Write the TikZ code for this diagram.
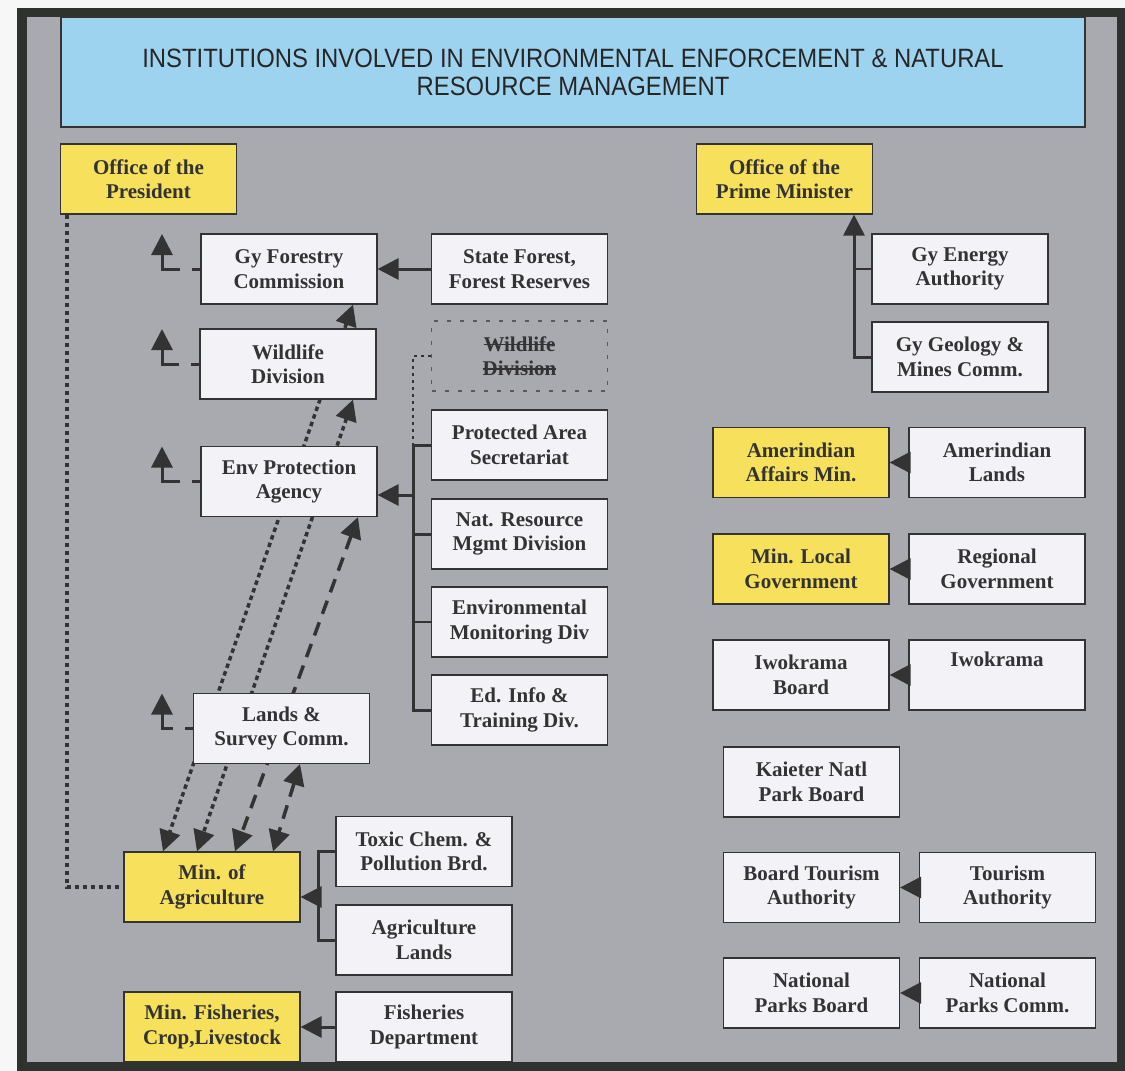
\documentclass[tikz,border=0pt]{standalone}
\usepackage{fontspec}
\setmainfont{Liberation Serif}
\newfontfamily\titlefont[FakeStretch=0.9]{Liberation Sans}
\usetikzlibrary{arrows.meta,backgrounds,calc}

\definecolor{framegray}{HTML}{2F322F}
\definecolor{panelgray}{HTML}{A9AAB0}
\definecolor{titleblue}{HTML}{9ED3F0}
\definecolor{boxwhite}{HTML}{F3F3F7}
\definecolor{minyellow}{HTML}{F6E05C}
\definecolor{inkgray}{HTML}{333333}
\newcommand\strikeout[1]{\setbox0\hbox{#1}\rlap{\rule[0.28em]{\wd0}{1.2pt}}\box0}

\begin{document}
\begin{tikzpicture}[x=1pt,y=-1pt,>={Triangle[length=21pt,width=21pt]},node distance=196pt,
      inst/.style={rectangle,draw=inkgray,line width=1.2pt,fill=boxwhite,text=inkgray,
        minimum width=176pt,minimum height=70pt,inner sep=2pt,align=center,
        font=\fontsize{21}{24.5}\selectfont\bfseries},
      mins/.style={inst,fill=minyellow},
      gone/.style={inst,fill=none,draw=black!65,dash pattern=on 4pt off 9pt},
      link/.style={draw=inkgray,line width=3pt},
      thinlink/.style={draw=inkgray,line width=1.5pt},
      uplink/.style={link,->,dash pattern=on 8pt off 12pt on 300pt},
      dotlink/.style={draw=inkgray,line width=3.5pt,dash pattern=on 4.5pt off 3.5pt},
      dashlink/.style={draw=inkgray,line width=3.5pt,dash pattern=on 14pt off 9pt}]
  \useasboundingbox (0,0) rectangle (1125,1071);
  \begin{scope}[on background layer]
    \fill[white!97!black] (0,0) rectangle (1125,1071);
    \fill[framegray] (17,8) rectangle (1125,1071);
    \fill[panelgray] (27,17) rectangle (1117,1062);
  \end{scope}

  \node[draw=inkgray,line width=1.2pt,fill=titleblue,minimum width=1024pt,minimum height=110pt,
    align=center,text=black!85,font=\titlefont\fontsize{26.5}{28}\selectfont] (title) at (573,72)
    {INSTITUTIONS INVOLVED IN ENVIRONMENTAL ENFORCEMENT \& NATURAL\\RESOURCE MANAGEMENT};

  \node[mins] (pres) at (148.5,179) {Office of the\\President};
  \node[mins] (pm) at (784.5,179) {Office of the\\Prime Minister};
  \node[inst] (forest) at (289,269) {Gy Forestry\\Commission};
  \node[inst] (stateforest) at (519.5,269) {State Forest,\\Forest Reserves};
  \node[inst] (wild) at (288,364) {Wildlife\\Division};
  \node[gone] (wildold) at (519.5,356) {\strikeout{Wildlife}\\\strikeout{Division}};
  \node[inst] (pas) at (519.5,445) {Protected Area\\Secretariat};
  \node[inst] (epa) at (289,481.5) {Env Protection\\Agency};
  \node[inst] (nrm) at (519.5,534) {Nat. Resource\\Mgmt Division};
  \node[inst] (emd) at (519.5,622) {Environmental\\Monitoring Div};
  \node[inst] (edu) at (519.5,710) {Ed. Info \&\\Training Div.};
  \node[inst] (lands) at (281.5,728.5) {Lands \&\\Survey Comm.};
  \node[mins] (agri) at (212,887) {Min. of\\Agriculture};
  \node[inst] (toxic) at (424,851.5) {Toxic Chem. \&\\Pollution Brd.};
  \node[inst] (aglands) at (424,940) {Agriculture\\Lands};
  \node[mins] (fish) at (212,1027) {Min. Fisheries,\\Crop,Livestock};
  \node[inst] (fishdept) at (424,1027) {Fisheries\\Department};

  \node[inst] (energy) at (960,269) {Gy Energy\\Authority};
  \node[inst] (geology) at (960,357) {Gy Geology \&\\Mines Comm.};
  \node[mins] (amerind) at (801,462.5) {Amerindian\\Affairs Min.};
  \node[inst] (amlands) [right of=amerind] {Amerindian\\Lands};
  \node[mins] (localgov) at (801,569) {Min. Local\\Government};
  \node[inst] (reggov) [right of=localgov] {Regional\\Government};
  \node[inst] (iwoboard) at (801,675) {Iwokrama\\Board};
  \node[inst] (iwokrama) [right of=iwoboard] {Iwokrama\\\strut};
  \node[inst] (kaieter) at (811.5,782) {Kaieter Natl\\Park Board};
  \node[inst] (boardtour) at (811.5,887.5) {Board Tourism\\Authority};
  \node[inst] (tourism) [right of=boardtour] {Tourism\\Authority};
  \node[inst] (npboard) at (811.5,993) {National\\Parks Board};
  \node[inst] (npcomm) [right of=npboard] {National\\Parks Comm.};

  \coordinate (pmbus) at (854,300);
  \coordinate (epabus) at (413,495);
  \coordinate (agribus) at (318,897);
  \coordinate (stubx) at (162,0);

  \draw[link,->] (stateforest) -- (forest);
  \draw[link,->] (fishdept) -- (fish);
  \draw[link,->] (amlands) -- (amerind);
  \draw[link,->] (reggov) -- (localgov);
  \draw[link,->] (iwokrama) -- (iwoboard);
  \draw[link,->] (tourism) -- (boardtour);
  \draw[link,->] (npcomm) -- (npboard);

  \draw[link,->] (geology.west) -- (geology.west -| pmbus) -- (pm.south -| pmbus);
  \draw[thinlink] (energy.west) -- (energy.west -| pmbus);

  \draw[link] (pas.west) -- (pas.west -| epabus) -- (edu.west -| epabus) -- (edu.west);
  \draw[link] (nrm.west) -- (nrm.west -| epabus);
  \draw[thinlink] (emd.west) -- (emd.west -| epabus);
  \draw[link,->] (epabus) -- (epabus -| epa.east);
  \draw[dotlink,line width=2.5pt,dash pattern=on 3pt off 4pt] (wildold.west) -- (wildold.west -| epabus) -- (pas.west -| epabus);

  \draw[link] (toxic.west) -- (toxic.west -| agribus) -- (aglands.west -| agribus) -- (aglands.west);
  \draw[link,->] (agribus) -- (agribus -| agri.east);

  \foreach \n in {forest,wild,epa,lands}
    \draw[uplink] (\n.west) -- (\n.west -| stubx) -- ++(0,-35);

  \draw[dotlink] ([xshift=7pt]pres.south west) |- (agri.west);

  \begin{scope}[on background layer]
    \draw[dotlink,<->] ([xshift=64pt]forest.south) -- ([xshift=-49pt]agri.north);
    \draw[dotlink,<->] ([xshift=65pt]wild.south) -- ([xshift=-15pt]agri.north);
    \draw[dashlink,<->] ([xshift=69pt]epa.south) -- ([xshift=23pt]agri.north);
    \draw[dashlink,<->] ([xshift=18.5pt]lands.south) -- ([xshift=61pt]agri.north);
  \end{scope}
\end{tikzpicture}
\end{document}
